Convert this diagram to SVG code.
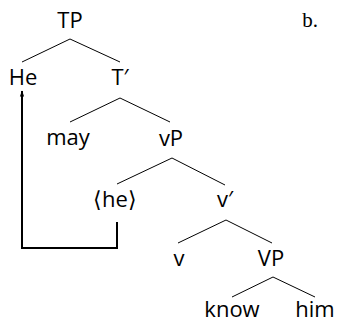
<svg xmlns="http://www.w3.org/2000/svg" width="338" height="322" viewBox="0 0 338 322">
<style>
text{font-family:"Open Sans","Noto Sans",sans-serif;font-size:22px;fill:#000;text-anchor:middle}
.b{font-family:"Liberation Serif",serif;font-size:21px}
.br{font-family:"DejaVu Sans",sans-serif;font-weight:300}
.e{stroke:#000;stroke-width:1;fill:none}
.m{stroke:#000;stroke-width:2;fill:none}
</style>
<defs>
<marker id="ah" viewBox="0 0 10 10" refX="9" refY="5" markerWidth="7" markerHeight="6" orient="auto" markerUnits="userSpaceOnUse">
<path d="M0,1.5 L10,5 L0,8.5 Z" fill="#000"/>
</marker>
</defs>
<g id="edges">
<path class="e" d="M70,39 L22,62 M70,39 L120,62"/>
<path class="e" d="M120,98 L70,122 M120,98 L170,122"/>
<path class="e" d="M172,158 L117,184 M172,158 L225,185"/>
<path class="e" d="M226,220 L178,243 M226,220 L272,243"/>
<path class="e" d="M273,277 L232,297 M273,277 L315,297"/>
<path class="m" d="M117,222 L117,248 L22,248 L22,91" marker-end="url(#ah)"/>
</g>
<g id="TP"><text x="70" y="28">TP</text></g>
<g id="He"><text x="23" y="85">He</text></g>
<g id="Tbar"><text x="120" y="85">T′</text></g>
<g id="may"><text x="68" y="145">may</text></g>
<g id="vP"><text x="171" y="146">vP</text></g>
<g id="he"><text x="115" y="207"><tspan class="br">⟨</tspan>he<tspan class="br">⟩</tspan></text></g>
<g id="vbar"><text x="225" y="207">v′</text></g>
<g id="v"><text x="179" y="266">v</text></g>
<g id="VP"><text x="271" y="266">VP</text></g>
<g id="know"><text x="232" y="317">know</text></g>
<g id="him"><text x="315" y="317">him</text></g>
<g id="label"><text class="b" x="310" y="27">b.</text></g>
</svg>
